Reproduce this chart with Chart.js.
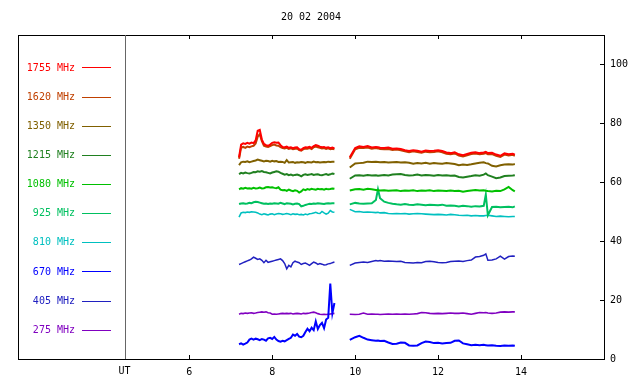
<!DOCTYPE html>
<html><head><meta charset="utf-8">
<script src="https://cdn.jsdelivr.net/npm/chart.js@4"></script>
<style>html,body{margin:0;padding:0;background:#fff}#wrap{width:640px;height:384px}</style>
</head><body><div id="wrap"><canvas id="c" width="640" height="384"></canvas></div>
<script>
const titleText = "20 02 2004";
const freqLabels = ["1755 MHz","1620 MHz","1350 MHz","1215 MHz","1080 MHz","925 MHz","810 MHz","670 MHz","405 MHz","275 MHz"];
const freqColors = ["#ff0000","#c04000","#806000","#208020","#00c000","#00c060","#00c0c0","#0000ff","#2020c0","#8000c0"];
const lineWidths = [2,2,2,2,2,2,1.6,2,1.5,1.6];
const xTickValues = [6,8,10,12,14];
const yTickValues = [0,20,40,60,80,100];
const axisLabel = "UT";

const times = [7.2,7.25,7.3,7.35,7.4,7.45,7.5,7.55,7.6,7.65,7.7,7.75,7.8,7.85,7.9,7.95,8.0,8.05,8.1,8.15,8.2,8.25,8.3,8.35,8.4,8.45,8.5,8.55,8.6,8.65,8.7,8.75,8.8,8.85,8.9,8.95,9.0,9.05,9.1,9.15,9.2,9.25,9.3,9.35,9.4,9.45,9.5,
 9.7,
 9.87,10.0,10.1,10.2,10.3,10.4,10.5,10.55,10.6,10.7,10.8,10.9,11.0,11.1,11.2,11.3,11.4,11.5,11.6,11.7,11.8,11.9,12.0,12.1,12.2,12.3,12.4,12.5,12.6,12.7,12.8,12.9,13.0,13.1,13.15,13.2,13.3,13.4,13.5,13.6,13.7,13.8,13.85];

const f1755 = [68.5,72.8,73.2,73.0,73.4,73.1,73.5,73.3,74.2,77.5,77.8,74.5,73.0,72.6,72.4,72.8,73.4,73.6,73.4,73.5,72.6,72.0,71.9,72.1,71.7,71.9,71.6,71.8,71.9,71.2,71.0,71.6,71.9,71.8,72.0,71.7,72.3,72.6,72.4,72.1,71.9,72.0,71.7,71.9,71.6,71.8,71.5,
 null,
 68.5,71.6,72.2,72.0,72.3,71.8,72.0,71.9,71.7,71.6,71.8,71.4,71.5,71.3,70.9,70.6,70.9,70.7,70.4,70.8,70.6,70.7,70.9,70.6,70.1,69.9,70.2,69.5,69.2,69.6,70.0,70.2,69.9,70.1,70.3,69.9,70.0,69.4,69.0,69.8,69.5,69.7,69.4];
const f1620 = [68.0,71.8,72.0,71.7,72.1,71.9,72.2,72.4,73.2,75.5,76.3,74.0,72.4,72.1,72.0,72.3,72.6,72.8,72.5,72.4,71.9,71.6,71.5,71.7,71.3,71.5,71.2,71.4,71.5,70.9,70.7,71.2,71.5,71.4,71.6,71.3,71.9,72.1,71.9,71.7,71.5,71.6,71.3,71.5,71.2,71.4,71.2,
 null,
 68.0,71.2,71.7,71.6,71.8,71.4,71.6,71.5,71.3,71.2,71.3,71.0,71.1,70.9,70.5,70.2,70.5,70.3,70.0,70.4,70.2,70.3,70.5,70.2,69.7,69.5,69.8,69.1,68.8,69.2,69.6,69.8,69.5,69.7,69.9,69.5,69.6,69.0,68.6,69.4,69.1,69.3,69.0];
const f1350 = [65.8,66.8,67.0,66.9,67.1,66.8,67.0,67.2,67.4,67.7,67.5,67.3,67.1,67.3,67.2,67.0,67.3,67.1,67.2,66.9,67.0,66.9,66.6,67.5,66.7,66.8,66.9,66.6,66.8,66.7,66.9,66.8,66.6,66.9,66.8,66.7,67.0,66.8,66.9,66.7,66.8,66.9,66.8,67.0,66.9,67.0,67.0,
 null,
 65.0,66.4,66.5,66.6,67.0,66.9,67.0,66.9,66.8,66.9,66.7,66.8,66.9,66.7,66.8,66.6,66.3,66.5,66.4,66.6,66.3,66.5,66.4,66.3,66.5,66.4,66.2,65.8,66.0,65.9,66.1,66.4,66.6,66.8,66.5,66.4,65.6,65.4,65.8,66.0,66.1,66.0,66.2];
const f1215 = [62.8,63.2,63.0,63.3,63.1,63.0,63.2,63.5,63.4,63.7,63.6,63.8,63.5,63.4,63.2,63.0,63.3,63.5,63.7,63.6,63.2,62.9,62.6,62.8,62.4,62.6,62.3,62.5,62.6,62.4,62.0,62.5,62.7,62.5,62.6,62.8,62.5,62.6,62.7,62.5,62.4,62.6,62.8,62.5,62.7,63.0,62.8,
 null,
 61.2,62.3,62.4,62.2,62.5,62.3,62.4,62.2,62.3,62.5,62.3,62.6,62.7,62.8,62.5,62.3,62.4,62.6,62.3,62.5,62.4,62.2,62.5,62.3,62.4,62.2,62.3,61.8,61.6,61.9,62.1,62.4,62.2,62.6,63.0,62.4,61.9,61.4,61.6,62.1,62.2,62.3,62.4];
const f1080 = [57.6,58.0,57.8,58.1,57.9,58.0,57.8,58.1,57.9,58.0,58.2,57.9,58.0,58.3,58.4,58.2,58.3,58.1,58.0,58.3,57.5,57.3,57.4,57.1,57.5,57.2,57.0,57.3,57.1,56.5,56.9,57.6,57.3,57.7,57.5,57.8,57.6,57.5,57.8,57.6,57.7,57.5,57.8,57.6,57.7,57.9,57.8,
 null,
 57.2,57.6,57.7,57.5,57.8,57.6,57.4,57.3,57.2,57.3,57.1,57.2,57.3,57.0,57.2,57.1,57.3,57.0,57.2,57.1,57.3,57.0,57.2,57.1,57.0,57.2,57.0,57.1,56.8,57.0,57.2,57.4,57.2,57.3,57.1,57.0,56.9,57.1,57.0,57.6,58.4,57.3,56.9];
const f925 = [52.6,52.8,52.9,52.7,52.8,53.0,52.9,53.2,53.4,53.3,53.1,52.9,52.7,52.8,52.6,52.8,52.7,52.9,52.8,52.7,53.0,52.8,52.6,52.9,52.8,52.7,52.5,52.7,52.8,52.6,51.8,52.0,52.3,52.5,52.7,52.6,52.8,52.7,52.9,52.8,52.7,52.6,52.8,52.9,52.8,52.9,52.9,
 null,
 52.5,53.0,52.8,52.7,52.8,52.9,54.0,57.6,54.6,53.4,53.0,52.7,52.5,52.4,52.6,52.4,52.3,52.5,52.4,52.2,52.4,52.3,52.2,52.4,52.0,52.1,52.0,51.8,52.0,51.9,51.7,51.9,51.8,52.0,55.8,48.8,51.6,51.7,51.5,51.6,51.7,51.5,51.8];
const f810 = [48.2,49.6,49.8,49.7,49.9,49.8,50.0,49.9,49.8,49.6,49.2,49.0,49.3,49.1,48.9,49.2,49.3,49.0,49.2,49.4,49.3,49.1,49.2,49.4,49.2,49.0,49.3,49.1,49.2,49.0,49.1,48.9,49.2,49.0,49.3,49.4,49.6,49.8,49.5,49.4,50.1,49.6,49.2,49.5,50.4,49.9,49.8,
 null,
 50.8,50.0,50.1,49.8,49.9,49.8,49.7,49.8,49.6,49.7,49.4,49.3,49.4,49.3,49.4,49.2,49.3,49.4,49.3,49.2,49.1,49.0,49.1,49.0,48.9,49.1,49.0,48.8,48.7,48.8,48.6,48.7,48.6,48.6,48.7,48.8,48.6,48.4,48.5,48.4,48.3,48.4,48.4];
const f670 = [5.0,5.3,4.9,5.2,5.6,6.6,6.9,6.6,6.9,6.7,6.4,6.8,6.6,6.2,7.0,7.2,6.8,7.5,6.6,6.1,5.9,6.2,6.0,6.4,6.8,7.2,8.3,7.9,8.5,7.6,7.4,7.9,9.2,10.3,9.4,10.6,9.8,12.8,10.2,11.5,12.3,10.5,13.4,14.0,25.6,15.5,19.0,
 null,
 6.5,7.4,7.9,7.2,6.6,6.4,6.2,6.3,6.1,6.2,5.6,5.1,5.2,5.6,5.5,4.6,4.5,4.6,5.4,5.9,5.8,5.4,5.5,5.3,5.4,5.5,6.2,6.3,5.3,5.0,4.7,4.8,4.7,4.8,4.7,4.6,4.7,4.5,4.4,4.6,4.5,4.6,4.5];
const f405 = [32.1,32.4,32.7,33.0,33.3,33.6,34.0,34.6,34.2,33.8,34.0,33.5,32.7,33.5,32.8,33.0,33.2,33.4,33.6,33.8,34.0,33.4,32.4,30.6,31.8,31.3,32.7,33.2,32.9,32.7,32.1,32.4,32.6,32.2,31.8,32.4,32.9,32.6,32.1,32.4,32.2,31.9,32.0,32.3,32.4,32.7,32.9,
 null,
 31.8,32.6,32.8,32.9,32.8,33.1,33.4,33.3,33.4,33.2,33.3,33.2,33.1,33.2,32.8,32.7,32.6,32.8,32.7,33.1,33.2,33.0,32.8,32.7,32.8,33.1,33.2,33.3,33.1,33.4,33.6,34.6,34.8,35.2,35.7,33.5,33.6,34.0,34.9,33.9,34.8,35.0,34.9];
const f275 = [15.2,15.5,15.4,15.6,15.5,15.6,15.7,15.5,15.6,15.8,15.9,16.0,15.9,16.0,15.7,15.6,15.2,15.3,15.2,15.3,15.4,15.5,15.4,15.5,15.4,15.5,15.3,15.4,15.5,15.4,15.3,15.5,15.4,15.5,15.6,15.8,15.9,15.7,15.4,15.2,15.1,15.2,15.1,15.2,15.3,15.4,15.5,
 null,
 15.2,15.1,15.2,15.6,15.2,15.3,15.2,15.2,15.1,15.2,15.3,15.2,15.3,15.2,15.3,15.2,15.3,15.4,15.8,15.7,15.5,15.4,15.5,15.4,15.5,15.6,15.5,15.5,15.6,15.4,15.2,15.5,15.8,15.7,15.8,15.6,15.5,15.6,15.9,16.0,15.9,16.0,16.0];

const seriesValues = [f1755,f1620,f1350,f1215,f1080,f925,f810,f670,f405,f275];

const X_MIN = 1.87, X_MAX = 16, Y_MIN = 0, Y_MAX = 110, DIVIDER_AT = 4.44;
const MONO = '"DejaVu Sans Mono", "Liberation Mono", monospace';
const X_LABEL_PAD = 7;

const datasets = seriesValues.map((vals, i) => ({
  label: freqLabels[i],
  data: times.map((t, k) => ({x: t, y: vals[k]})),
  borderColor: freqColors[i],
  backgroundColor: freqColors[i],
  borderWidth: lineWidths[i],
  pointRadius: 0,
  tension: 0,
  spanGaps: false,
  fill: false
}));

const overlay = {
  id: 'overlay',
  afterDraw(chart) {
    const {ctx, chartArea: a, scales: {x, y}} = chart;
    ctx.save();
    ctx.font = '10px ' + MONO;
    ctx.fillStyle = '#000';
    ctx.textAlign = 'center';
    ctx.textBaseline = 'middle';
    ctx.fillText(titleText, (a.left + a.right) / 2, 17);
    ctx.strokeStyle = '#000';
    ctx.lineWidth = 1;
    ctx.strokeRect(a.left + 0.5, a.top + 0.5, a.right - a.left, a.bottom - a.top);
    const dx = Math.round(x.getPixelForValue(DIVIDER_AT)) + 0.5;
    ctx.strokeStyle = '#666666';
    ctx.beginPath(); ctx.moveTo(dx, a.top); ctx.lineTo(dx, a.bottom); ctx.stroke();
    ctx.strokeStyle = '#000';
    xTickValues.forEach(v => {
      const px = Math.round(x.getPixelForValue(v)) + 0.5;
      ctx.beginPath();
      ctx.moveTo(px, a.bottom); ctx.lineTo(px, a.bottom - 4);
      ctx.moveTo(px, a.top); ctx.lineTo(px, a.top + 4);
      ctx.stroke();
    });
    yTickValues.forEach(v => {
      const py = Math.round(y.getPixelForValue(v)) + 0.5;
      ctx.beginPath(); ctx.moveTo(a.right, py); ctx.lineTo(a.right - 4, py); ctx.stroke();
    });
    ctx.textBaseline = 'top';
    ctx.fillText(axisLabel, dx - 1, a.bottom + X_LABEL_PAD);
    // legend
    ctx.textBaseline = 'middle';
    ctx.textAlign = 'right';
    freqLabels.forEach((lab, i) => {
      const ly = a.top + 33 + i * 29.14;
      ctx.fillStyle = freqColors[i];
      ctx.fillText(lab, 75, ly);
      ctx.strokeStyle = freqColors[i];
      ctx.beginPath();
      const yy = Math.round(ly - 0.6) + 0.5;
      ctx.moveTo(82, yy); ctx.lineTo(111, yy); ctx.stroke();
    });
    ctx.restore();
  }
};

new Chart(document.getElementById('c'), {
  type: 'line',
  data: {datasets},
  options: {
    responsive: false,
    animation: false,
    devicePixelRatio: 1,
    layout: {padding: {left: 18, top: 35, right: 0, bottom: 0}},
    plugins: {legend: {display: false}, title: {display: false}, tooltip: {enabled: false}},
    scales: {
      x: {
        type: 'linear', position: 'bottom', min: X_MIN, max: X_MAX,
        grid: {display: false, drawTicks: false, tickLength: 0},
        border: {display: false},
        ticks: {font: {family: MONO, size: 10}, color: '#000', padding: X_LABEL_PAD, maxRotation: 0, autoSkip: false},
        afterBuildTicks: s => { s.ticks = xTickValues.map(v => ({value: v})); },
        afterFit: s => { s.height = 25; }
      },
      y: {
        type: 'linear', position: 'right', min: Y_MIN, max: Y_MAX,
        grid: {display: false, drawTicks: false, tickLength: 0},
        border: {display: false},
        ticks: {font: {family: MONO, size: 10}, color: '#000', padding: 6, autoSkip: false},
        afterBuildTicks: s => { s.ticks = yTickValues.map(v => ({value: v})); },
        afterFit: s => { s.width = 36; }
      }
    }
  },
  plugins: [overlay]
});
</script>
</body></html>
